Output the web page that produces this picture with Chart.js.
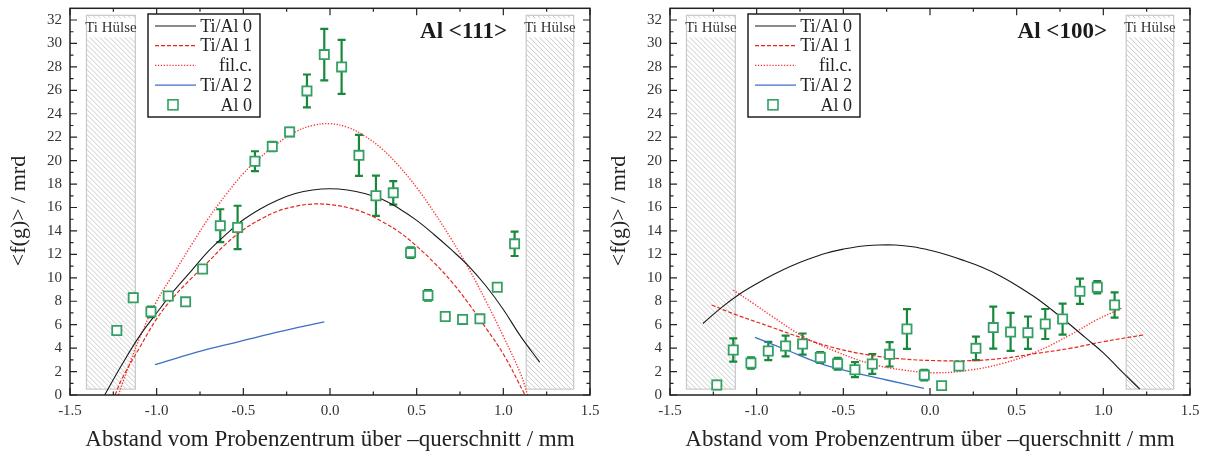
<!DOCTYPE html>
<html>
<head>
<meta charset="utf-8">
<script src="https://cdn.jsdelivr.net/npm/chart.js@4.4.1/dist/chart.umd.min.js"></script>
<style>
  html, body { margin: 0; padding: 0; background: #fff; }
  #wrap { position: relative; width: 1207px; height: 454px; }
  .panel { position: absolute; top: 0; }
  #p1 { left: 0; }
  #p2 { left: 600px; }
</style>
</head>
<body>
<div id="wrap">
  <div class="panel" id="p1"><canvas id="c111" width="600" height="454"></canvas></div>
  <div class="panel" id="p2"><canvas id="c100" width="607" height="454"></canvas></div>
</div>
<script>
// measurement positions (same for both panels)
const posX = [-1.23, -1.135, -1.033, -0.933, -0.833, -0.735, -0.633, -0.533, -0.433, -0.333, -0.233, -0.133,
              -0.033, 0.067, 0.167, 0.265, 0.365, 0.465, 0.565, 0.665, 0.765, 0.865, 0.965, 1.065];

// Al <111> measured values and errors
const al0_111 = [5.5, 8.3, 7.1, 8.45, 7.95, 10.75, 14.45, 14.3, 19.95, 21.2, 22.45, 25.95,
                 29.05, 28.0, 20.45, 17.0, 17.25, 12.15, 8.5, 6.7, 6.45, 6.5, 9.2, 12.9];
const err_111 = [0.2, 0.35, 0.45, 0.3, 0.3, 0.3, 1.4, 1.85, 0.85, 0.4, 0.35, 1.4,
                 2.2, 2.3, 1.75, 1.72, 1.0, 0.45, 0.45, 0.25, 0.25, 0.3, 0.3, 1.04];

// Al <100> measured values and errors
const al0_100 = [0.85, 3.84, 2.73, 3.75, 4.18, 4.35, 3.2, 2.67, 2.16, 2.65, 3.47, 5.63,
                 1.7, 0.8, 2.47, 3.98, 5.75, 5.38, 5.32, 6.06, 6.48, 8.85, 9.19, 7.68];
const err_100 = [0.35, 1.0, 0.48, 0.78, 0.88, 0.9, 0.47, 0.5, 0.64, 0.85, 1.04, 1.7,
                 0.45, 0.2, 0.2, 1.0, 1.8, 1.62, 1.38, 1.28, 1.32, 1.08, 0.52, 1.07];

// model curves, Al <111>
const tial0X_111 = [-1.30, -1.2, -1.1, -1.0, -0.9, -0.8, -0.7, -0.6, -0.5, -0.4, -0.3, -0.2, -0.1,
                    0.0, 0.1, 0.2, 0.3, 0.4, 0.5, 0.6, 0.7, 0.8, 0.9, 1.0, 1.1, 1.21];
const tial0Y_111 = [0, 2.6, 5.0, 7.0, 8.9, 10.6, 12.3, 13.7, 14.95, 15.9, 16.65, 17.2, 17.5,
                    17.6, 17.5, 17.2, 16.7, 15.9, 14.9, 13.7, 12.4, 11.0, 9.3, 7.3, 5.0, 2.8];
const tial1X_111 = [-1.24, -1.2, -1.1, -1.0, -0.9, -0.8, -0.7, -0.6, -0.5, -0.4, -0.3, -0.2, -0.1,
                    0.0, 0.1, 0.2, 0.3, 0.4, 0.5, 0.6, 0.7, 0.8, 0.9, 1.0, 1.125];
const tial1Y_111 = [0, 1.4, 4.0, 6.5, 8.4, 9.95, 11.4, 12.9, 14.1, 15.0, 15.7, 16.1, 16.3,
                    16.25, 16.0, 15.55, 14.8, 13.9, 12.7, 11.3, 9.7, 7.8, 5.7, 3.5, 0];
const filcX_111 = [-1.22, -1.2, -1.1, -1.0, -0.9, -0.8, -0.7, -0.6, -0.5, -0.4, -0.3, -0.2, -0.1,
                   0.0, 0.1, 0.2, 0.3, 0.4, 0.5, 0.6, 0.7, 0.8, 0.9, 1.0, 1.1, 1.14];
const filcY_111 = [0, 0.9, 4.8, 8.0, 10.4, 12.8, 15.1, 17.1, 18.9, 20.3, 21.5, 22.45, 23.0,
                   23.15, 22.85, 22.1, 21.0, 19.5, 17.7, 15.6, 13.3, 10.8, 8.0, 5.0, 1.8, 0];
const tial2X_111 = [-1.01, -0.73, -0.54, -0.35, -0.155, -0.033];
const tial2Y_111 = [2.6, 3.8, 4.5, 5.2, 5.85, 6.25];

// model curves, Al <100>
const tial0X_100 = [-1.31, -1.2, -1.1, -1.0, -0.9, -0.8, -0.7, -0.6, -0.5, -0.4, -0.3, -0.2, -0.1,
                    0.0, 0.1, 0.2, 0.3, 0.4, 0.5, 0.6, 0.7, 0.8, 0.9, 1.0, 1.1, 1.21];
const tial0Y_100 = [6.1, 7.5, 8.6, 9.5, 10.3, 11.0, 11.6, 12.1, 12.45, 12.7, 12.8, 12.8, 12.65,
                    12.35, 11.95, 11.45, 10.9, 10.2, 9.35, 8.4, 7.3, 6.1, 4.85, 3.6, 2.1, 0.5];
const tial1X_100 = [-1.26, -1.115, -0.923, -0.73, -0.54, -0.35, -0.154, 0.038, 0.23, 0.42, 0.615, 0.808, 1.0, 1.23];
const tial1Y_100 = [7.68, 6.83, 5.83, 4.83, 3.98, 3.41, 3.07, 2.93, 2.93, 3.13, 3.55, 3.98, 4.55, 5.12];
const filcX_100 = [-1.135, -1.02, -0.923, -0.73, -0.54, -0.35, -0.154, 0.038, 0.23, 0.42, 0.615, 0.808, 0.96, 1.106];
const filcY_100 = [8.96, 7.82, 6.83, 4.98, 3.7, 2.7, 2.13, 1.9, 2.13, 2.7, 3.7, 5.12, 6.4, 7.4];
const tial2X_100 = [-1.01, -0.827, -0.635, -0.442, -0.25, -0.035];
const tial2Y_100 = [4.92, 3.84, 2.7, 1.93, 1.28, 0.57];

// axis tick labels
const yTickVals = [0, 2, 4, 6, 8, 10, 12, 14, 16, 18, 20, 22, 24, 26, 28, 30, 32];
const xTickVals = [-1.5, -1.0, -0.5, 0.0, 0.5, 1.0, 1.5];

// Ti sleeve regions (x from / to), y range
const sleeveX = [[-1.405, -1.123], [1.132, 1.406]];
const sleeveY = [0.5, 32.4];
const sleeveLabel = 'Ti Hülse';

const xTitle = 'Abstand vom Probenzentrum über –querschnitt / mm';
const yTitle = '<f(g)> / mrd';

const SERIF = '"Liberation Serif", "Times New Roman", serif';
const GREEN = '#17883c';
const GREEN_MARK = '#34a064';

function pts(xs, ys) {
  return xs.map((x, i) => ({x: x, y: ys[i]}));
}

// hatched Ti sleeve boxes
const sleevePlugin = {
  id: 'sleeves',
  beforeDatasetsDraw(chart) {
    const {ctx, scales: {x, y}} = chart;
    ctx.save();
    sleeveX.forEach(r => {
      const l = x.getPixelForValue(r[0]), rr = x.getPixelForValue(r[1]);
      const t = y.getPixelForValue(sleeveY[1]), b = y.getPixelForValue(sleeveY[0]);
      ctx.save();
      ctx.beginPath();
      ctx.rect(l, t, rr - l, b - t);
      ctx.clip();
      ctx.strokeStyle = '#c4c4c4';
      ctx.lineWidth = 0.9;
      for (let k = -(b - t); k < rr - l + 10; k += 5) {
        ctx.beginPath();
        ctx.moveTo(l + k, t);
        ctx.lineTo(l + k + (b - t), b);
        ctx.stroke();
      }
      ctx.restore();
      ctx.strokeStyle = '#c8c8c8';
      ctx.lineWidth = 1.2;
      ctx.strokeRect(l, t, rr - l, b - t);
      // label patch
      const ly = y.getPixelForValue(31.3);
      ctx.fillStyle = '#fff';
      ctx.fillRect(l + 0.8, t + 3, rr - l - 1.6, 19);
      ctx.fillStyle = '#333';
      ctx.font = '15px ' + SERIF;
      ctx.textAlign = 'center';
      ctx.textBaseline = 'middle';
      ctx.fillText(sleeveLabel, (l + rr) / 2, ly);
    });
    ctx.restore();
  }
};

// error bars under the markers
const errorBarPlugin = {
  id: 'errbars',
  beforeDatasetsDraw(chart, args, opts) {
    const {ctx, scales: {x, y}} = chart;
    ctx.save();
    ctx.beginPath();
    ctx.rect(chart.chartArea.left, chart.chartArea.top, chart.chartArea.width, chart.chartArea.height);
    ctx.clip();
    ctx.strokeStyle = GREEN;
    ctx.lineWidth = 2.2;
    opts.vals.forEach((v, i) => {
      const px = x.getPixelForValue(posX[i]);
      const top = y.getPixelForValue(v + opts.errs[i]);
      const bot = y.getPixelForValue(v - opts.errs[i]);
      ctx.beginPath();
      ctx.moveTo(px, top); ctx.lineTo(px, bot);
      ctx.moveTo(px - 4, top); ctx.lineTo(px + 4, top);
      ctx.moveTo(px - 4, bot); ctx.lineTo(px + 4, bot);
      ctx.stroke();
    });
    ctx.restore();
  }
};

// frame, inward ticks, y title, legend box and panel title
const framePlugin = {
  id: 'frame',
  afterDraw(chart, args, opts) {
    const {ctx, chartArea: a, scales: {x, y}} = chart;
    ctx.save();
    ctx.strokeStyle = '#222';
    ctx.lineWidth = 1.5;
    ctx.strokeRect(a.left, a.top, a.width, a.height);
    ctx.lineWidth = 1.2;
    ctx.beginPath();
    for (let v = 0; v <= 32; v++) {
      const py = y.getPixelForValue(v);
      const len = v % 2 === 0 ? 7 : 3.5;
      ctx.moveTo(a.left, py); ctx.lineTo(a.left + len, py);
      ctx.moveTo(a.right, py); ctx.lineTo(a.right - len, py);
    }
    for (let k = 0; k <= 12; k++) {
      const v = -1.5 + k * 0.25;
      const px = x.getPixelForValue(v);
      const len = k % 2 === 0 ? 7 : 3.5;
      ctx.moveTo(px, a.bottom); ctx.lineTo(px, a.bottom - len);
      ctx.moveTo(px, a.top); ctx.lineTo(px, a.top + len);
    }
    ctx.stroke();

    // y axis title
    ctx.save();
    ctx.translate(19, 211);
    ctx.rotate(-Math.PI / 2);
    ctx.fillStyle = '#222';
    ctx.font = '22px ' + SERIF;
    ctx.textAlign = 'center';
    ctx.textBaseline = 'middle';
    ctx.fillText(yTitle, 0, 0);
    ctx.restore();

    // title
    ctx.fillStyle = '#1a1a1a';
    ctx.font = 'bold 23px ' + SERIF;
    ctx.textAlign = 'right';
    ctx.textBaseline = 'middle';
    ctx.fillText(opts.title, a.left + 437, 32);

    // legend
    const lx = a.left + 78, ly = 14, lw = 112, lh = 103;
    ctx.fillStyle = '#fff';
    ctx.fillRect(lx, ly, lw, lh);
    ctx.strokeStyle = '#222';
    ctx.lineWidth = 1.5;
    ctx.strokeRect(lx, ly, lw, lh);
    ctx.font = '18px ' + SERIF;
    const order = chart.data.datasets.slice(1).concat([chart.data.datasets[0]]);
    order.forEach((ds, i) => {
      const ry = ly + 12 + i * 19.7;
      if (ds.pointStyle === 'rect') {
        ctx.strokeStyle = ds.borderColor;
        ctx.lineWidth = 1.6;
        ctx.strokeRect(lx + 20, ry - 5, 10, 10);
      } else {
        ctx.strokeStyle = ds.borderColor;
        ctx.lineWidth = ds.borderWidth;
        ctx.setLineDash(ds.borderDash || []);
        ctx.beginPath();
        ctx.moveTo(lx + 7, ry); ctx.lineTo(lx + 48, ry);
        ctx.stroke();
        ctx.setLineDash([]);
      }
      ctx.fillStyle = '#222';
      ctx.textAlign = 'right';
      ctx.fillText(ds.label, lx + lw - 8, ry + 1);
    });
    ctx.restore();
  }
};

function curve(label, data, color, dash, width) {
  return {
    type: 'line', label: label, data: data,
    borderColor: color, borderDash: dash, borderWidth: width,
    pointRadius: 0, fill: false, tension: 0.4, order: 1
  };
}

function makeChart(id, title, vals, errs, c, rightPad) {
  const ctx = document.getElementById(id).getContext('2d');
  return new Chart(ctx, {
    type: 'scatter',
    data: {
      datasets: [
        {
          label: 'Al 0', data: pts(posX, vals), pointStyle: 'rect', pointRadius: 6.5,
          borderColor: GREEN_MARK, backgroundColor: '#fff', pointBorderWidth: 1.8, order: 0
        },
        curve('Ti/Al 0', pts(c[0], c[1]), '#1a1a1a', [], 1.1),
        curve('Ti/Al 1', pts(c[2], c[3]), '#e6261e', [4, 2], 1.2),
        curve('fil.c.', pts(c[4], c[5]), '#ff3535', [1.3, 1.6], 1.4),
        curve('Ti/Al 2', pts(c[6], c[7]), '#3b70c6', [], 1.3)
      ]
    },
    options: {
      responsive: false,
      animation: false,
      layout: { padding: { left: 0, right: rightPad, top: 8, bottom: 0 } },
      plugins: {
        legend: { display: false },
        tooltip: { enabled: false },
        errbars: { vals: vals, errs: errs },
        frame: { title: title }
      },
      scales: {
        x: {
          type: 'linear', min: -1.5, max: 1.5,
          afterBuildTicks(scale) { scale.ticks = xTickVals.map(v => ({value: v})); },
          afterFit(scale) {
            scale.height = 59;
            scale.paddingLeft = 0; scale.paddingRight = 0;
          },
          grid: { display: false, drawTicks: false },
          border: { display: false },
          ticks: {
            padding: 7, color: '#333',
            font: { family: SERIF, size: 15 },
            maxRotation: 0,
            callback: v => v.toFixed(1)
          },
          title: {
            display: true, text: xTitle, color: '#222',
            font: { family: SERIF, size: 23 },
            padding: { top: 0, bottom: 0 }
          }
        },
        y: {
          min: 0, max: 33,
          afterBuildTicks(scale) { scale.ticks = yTickVals.map(v => ({value: v})); },
          afterFit(scale) {
            scale.width = 70;
            scale.paddingTop = 0; scale.paddingBottom = 0;
          },
          grid: { display: false, drawTicks: false },
          border: { display: false },
          ticks: {
            padding: 8, color: '#333',
            font: { family: SERIF, size: 15 },
            callback: v => String(v)
          }
        }
      }
    },
    plugins: [sleevePlugin, errorBarPlugin, framePlugin]
  });
}

makeChart('c111', 'Al <111>', al0_111, err_111,
  [tial0X_111, tial0Y_111, tial1X_111, tial1Y_111, filcX_111, filcY_111, tial2X_111, tial2Y_111], 10);
makeChart('c100', 'Al <100>', al0_100, err_100,
  [tial0X_100, tial0Y_100, tial1X_100, tial1Y_100, filcX_100, filcY_100, tial2X_100, tial2Y_100], 17);
</script>
</body>
</html>
